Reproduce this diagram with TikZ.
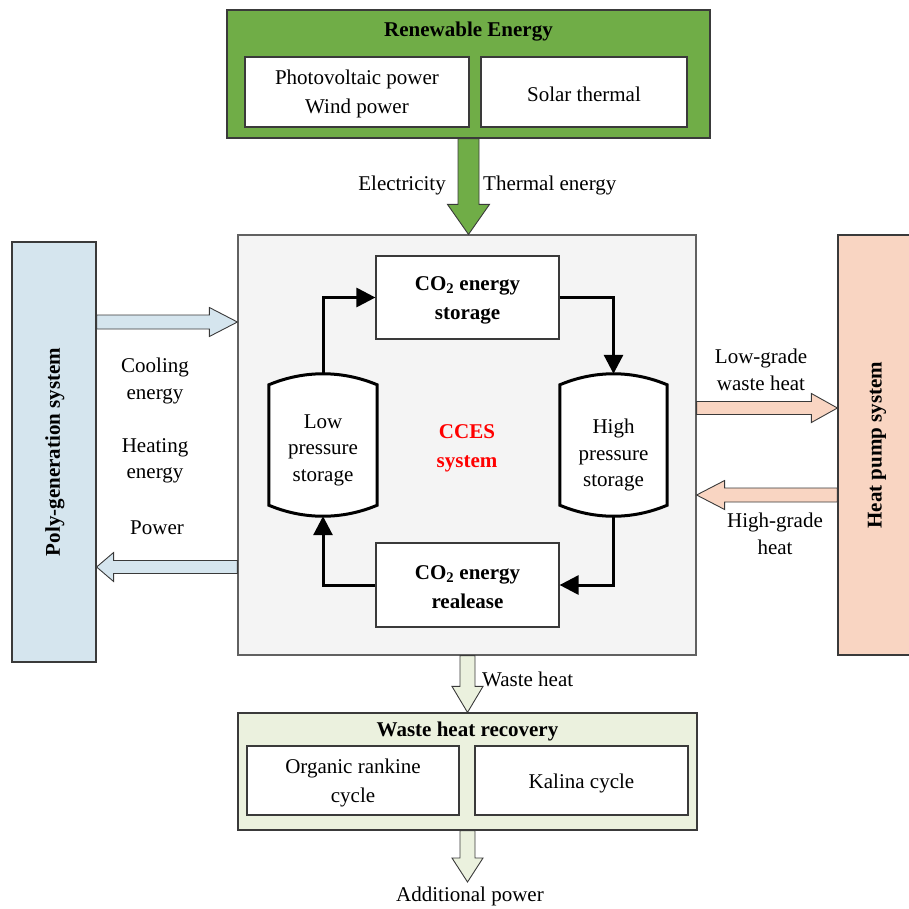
\documentclass[tikz,border=0pt]{standalone}
\usepackage{fontspec}
\setmainfont{Liberation Serif}
\usetikzlibrary{arrows.meta,calc}

\definecolor{reGreen}{HTML}{70AD47}
\definecolor{ccesGrey}{HTML}{F4F4F4}
\definecolor{polyBlue}{HTML}{D5E5EE}
\definecolor{pumpPeach}{HTML}{F9D5C2}
\definecolor{wasteGreen}{HTML}{EBF1DE}
\definecolor{edgeGrey}{HTML}{3A3A3A}

\tikzset{
  txt/.style={font=\fontsize{21}{26.5}\selectfont, align=center, inner sep=0pt},
  btxt/.style={txt, font=\fontsize{21}{29}\selectfont\bfseries},
  panel/.style={draw=edgeGrey, line width=1.2pt, minimum width=#1, inner sep=0pt},
  inbox/.style={draw=edgeGrey, line width=1.2pt, fill=white, inner sep=0pt},
  boxtxt/.style={font=\fontsize{21}{29}\selectfont, align=center, inner sep=0pt},
  tankbox/.style={draw=none, inner sep=0pt},
  tankline/.style={draw=black, line width=3pt, fill=white},
  loopflow/.style={line width=3pt, -{Triangle[length=19pt,width=19pt]}},
  fat/.style={draw=edgeGrey, line width=0.9pt, fill=#1, line join=miter}
}

% block arrow: style fill, from, to, half shaft, half head, head length
\newcommand{\blockarrow}[6]{%
  \coordinate (hb) at ($(#3)!#6!(#2)$);
  \draw[fat=#1] ($(#2)!#4!90:(#3)$) -- ($(hb)!#4!-90:(#2)$) -- ($(hb)!#5!-90:(#2)$)
    -- (#3) -- ($(hb)!#5!90:(#2)$) -- ($(hb)!#4!90:(#2)$) -- ($(#2)!#4!-90:(#3)$) -- cycle;}

% tank outline drawn on the frame of a named node
\newcommand{\tankshape}[1]{%
  \draw[tankline] ($(#1.north west)+(0,11)$) -- ($(#1.south west)+(0,-11)$)
    .. controls ($(#1.south west)+(35,3.7)$) and ($(#1.south east)+(-35,3.7)$) .. ($(#1.south east)+(0,-11)$)
    -- ($(#1.north east)+(0,11)$)
    .. controls ($(#1.north east)+(-35,-3.7)$) and ($(#1.north west)+(35,-3.7)$) .. cycle;}

\begin{document}
\begin{tikzpicture}[x=1pt,y=-1pt]
\useasboundingbox (0,0) rectangle (909,908);

% ---- renewable energy ----
\node[panel=483pt, minimum height=128pt, fill=reGreen] (re) at (468.5,74) {};
\node[btxt] (retitle) at (468.5,32) {Renewable Energy};
\node[inbox, minimum width=224pt, minimum height=70pt] (pv) at (357,92) {};
\node[boxtxt] (pvtext) at (357,93.5) {Photovoltaic power\\Wind power};
\node[inbox, minimum width=206pt, minimum height=70pt] (st) at (584,92) {};
\node[boxtxt] (sttext) at (584,94) {Solar thermal};

% ---- CCES core ----
\node[draw=edgeGrey!80, line width=1.2pt, fill=ccesGrey, minimum width=458pt, minimum height=420pt] (cces) at (467,445) {};
\node[inbox, minimum width=183pt, minimum height=83pt] (cs) at (467.5,297.5) {};
\node[btxt] (cstext) at (467.5,300) {CO\textsubscript{2} energy\\storage};
\node[inbox, minimum width=183pt, minimum height=84pt] (cr) at (467.5,585) {};
\node[btxt] (crtext) at (467.5,587) {CO\textsubscript{2} energy\\realease};
\node[tankbox, minimum width=108pt, minimum height=142pt] (lt) at (323,445) {};
\node[tankbox, minimum width=107pt, minimum height=142pt] (ht) at (613.5,445) {};
\tankshape{lt}
\tankshape{ht}
\node[txt] (ltlabel) at ($(lt.center)+(0,5)$) {Low\\pressure\\storage};
\node[txt] (htlabel) at ($(ht.center)+(0,10)$) {High\\pressure\\storage};
\node[btxt, text=red] (ccesname) at (467,448) {CCES\\system};

\draw[loopflow] (lt.north) |- (cs.west);
\draw[loopflow] (cs.east) -| (ht.north);
\draw[loopflow] (ht.south) |- (cr.east);
\draw[loopflow] (cr.west) -| (lt.south);

% ---- side systems ----
\node[panel=84pt, minimum height=420pt, fill=polyBlue] (poly) at (54,452) {};
\node[btxt, rotate=90] (polytext) at (55,452) {Poly-generation system};
\node[panel=72pt, minimum height=420pt, fill=pumpPeach] (hp) at (874,445) {};
\node[btxt, rotate=90] (hptext) at (877,445) {Heat pump system};

% ---- waste heat recovery ----
\node[panel=459pt, minimum height=117pt, fill=wasteGreen] (wh) at (467.5,771.5) {};
\node[btxt] (whtitle) at (467.5,731) {Waste heat recovery};
\node[inbox, minimum width=212pt, minimum height=69pt] (orc) at (353,780.5) {};
\node[boxtxt] (orctext) at (353,783) {Organic rankine\\cycle};
\node[inbox, minimum width=213pt, minimum height=69pt] (kc) at (581.5,780.5) {};
\node[boxtxt] (kctext) at (581.5,783) {Kalina cycle};

% ---- block arrows ----
\coordinate (g1) at (re.south -| 468.5,0);
\coordinate (g2) at (cces.north -| 468.5,0);
\blockarrow{reGreen}{g1}{g2}{10.5pt}{21pt}{30pt}

\coordinate (p1) at (poly.east |- 0,322);
\coordinate (p2) at (cces.west |- 0,322);
\blockarrow{polyBlue}{p1}{p2}{7pt}{14.5pt}{28pt}

\coordinate (q1) at (cces.west |- 0,567);
\coordinate (q2) at (poly.east |- 0,567);
\blockarrow{polyBlue}{q1}{q2}{6.5pt}{14.5pt}{17pt}

\coordinate (l1) at (cces.east |- 0,408);
\coordinate (l2) at (hp.west |- 0,408);
\blockarrow{pumpPeach}{l1}{l2}{6.5pt}{14.5pt}{26pt}

\coordinate (h1) at (hp.west |- 0,495);
\coordinate (h2) at (cces.east |- 0,495);
\blockarrow{pumpPeach}{h1}{h2}{7pt}{14.5pt}{28pt}

\coordinate (w1) at (cces.south -| 467.5,0);
\coordinate (w2) at (wh.north -| 467.5,0);
\blockarrow{wasteGreen}{w1}{w2}{7.5pt}{15.5pt}{26pt}

\coordinate (a1) at (wh.south -| 467.5,0);
\coordinate (a2) at (467.5,882);
\blockarrow{wasteGreen}{a1}{a2}{7.5pt}{15.5pt}{24pt}

% ---- flow labels ----
\node[txt, anchor=east] (elec) at (446,185) {Electricity};
\node[txt, anchor=west] (therm) at (483,185) {Thermal energy};
\node[txt] (cool) at (155,381) {Cooling\\energy};
\node[txt] (heat) at (155,461) {Heating\\energy};
\node[txt] (pow) at (157,528) {Power};
\node[txt] (lowg) at (761,370) {Low-grade\\waste heat};
\node[txt] (highg) at (775,534) {High-grade\\heat};
\node[txt, anchor=west] (wheat) at (482,679) {Waste heat};
\node[txt] (addp) at (470,896) {Additional power};
\end{tikzpicture}
\end{document}
